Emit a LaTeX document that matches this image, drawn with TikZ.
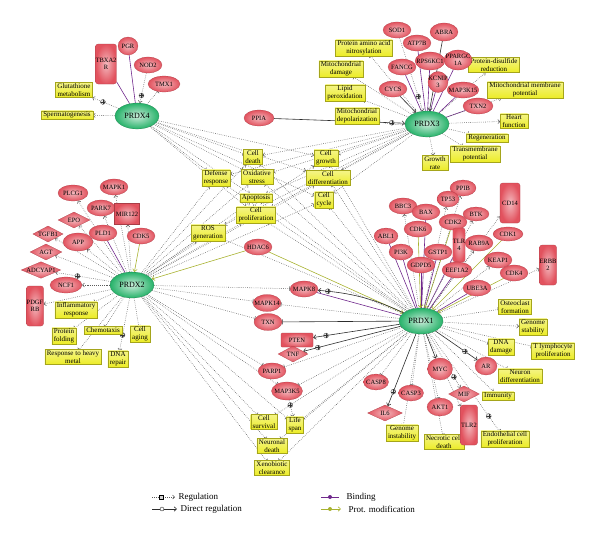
\documentclass[tikz,border=0pt]{standalone}
\usepackage{fontspec}
\setmainfont{Liberation Serif}
\usetikzlibrary{arrows.meta,shapes.geometric}
\definecolor{protred}{RGB}{226,82,94}
\definecolor{hubgreen}{RGB}{38,178,105}
\definecolor{procyellow}{RGB}{236,236,38}
\definecolor{linegray}{RGB}{92,92,92}
\definecolor{dregdark}{RGB}{45,45,45}
\definecolor{bindpurple}{RGB}{112,40,140}
\definecolor{pmodolive}{RGB}{168,178,48}
\pgfdeclarelayer{edges}
\pgfsetlayers{edges,main}
\tikzset{
  hub/.style={ellipse, draw=hubgreen!70!black, line width=0.2pt, inner color=hubgreen!25!white, outer color=hubgreen, minimum width=44pt, minimum height=26pt, inner xsep=-2pt, font=\fontsize{8}{9}\selectfont},
  prot/.style={ellipse, draw=protred!75!black, line width=0.2pt, inner color=protred!40!white, outer color=protred, minimum width=28pt, minimum height=16pt, inner xsep=-3pt, inner ysep=0pt, align=center, font=\fontsize{6.5}{6.5}\selectfont},
  lig/.style={prot, diamond, aspect=2.4, inner sep=0pt},
  recep/.style={prot, rectangle, rounded corners=2.5pt, minimum width=19pt, minimum height=40pt, inner sep=0pt},
  mirna/.style={prot, rectangle, minimum width=25pt, minimum height=21pt, inner sep=0pt},
  phos/.style={prot, rectangle, rounded corners=1pt, minimum width=32pt, minimum height=14pt, inner sep=0pt},
  proc/.style={rectangle, draw=procyellow!70!black, line width=0.2pt, top color=procyellow!55!white, bottom color=procyellow, inner xsep=2pt, inner ysep=1.2pt, align=center, font=\fontsize{7}{7.6}\selectfont},
  reg/.style={draw=linegray, line width=0.55pt, dash pattern=on 0.6pt off 1.3pt, -{Straight Barb[length=2pt,width=4pt]}},
  regbar/.style={reg, -{Bar[width=4.5pt]}},
  dreg/.style={draw=dregdark, line width=0.6pt, -{Straight Barb[length=2.5pt,width=4.5pt]}},
  dregbar/.style={dreg, -{Bar[width=5pt]}},
  bind/.style={draw=bindpurple, line width=0.6pt},
  pmod/.style={draw=pmodolive, line width=0.6pt, -{Straight Barb[length=2.5pt,width=4.5pt]}},
  pmark/.style={circle, draw=black!80, fill=gray!20, line width=0.25pt, inner sep=0pt, minimum size=5pt, solid,
    path picture={\draw[line width=0.3pt] (path picture bounding box.north) -- (path picture bounding box.south) (path picture bounding box.west) -- (path picture bounding box.east);}},
  sqmark/.style={rectangle, draw=black, fill=gray!35, line width=0.3pt, inner sep=0pt, minimum size=3.5pt, solid},
  cmark/.style={circle, draw=black, fill=white, line width=0.3pt, inner sep=0pt, minimum size=4pt},
  dmark/.style={circle, inner sep=0pt, minimum size=4pt},
  legtext/.style={anchor=west, font=\fontsize{9}{10}\selectfont}
}

\begin{document}
\begin{tikzpicture}[x=1pt,y=-1pt]
  \useasboundingbox (0,0) rectangle (600,536);

  % hubs
  \node[hub] (prdx4) at (137,116) {PRDX4};
  \node[hub] (prdx3) at (427,124) {PRDX3};
  \node[hub] (prdx2) at (132,285) {PRDX2};
  \node[hub] (prdx1) at (421,321) {PRDX1};

  % cell processes
  \node[proc] (glut) at (74,90) {Glutathione\\metabolism};
  \node[proc] (sperm) at (67,115) {Spermatogenesis};
  \node[proc] (defense) at (216,178) {Defense\\response};
  \node[proc] (nitro) at (364,48) {Protein amino acid\\nitrosylation};
  \node[proc] (mitodam) at (341,69) {Mitochondrial\\damage};
  \node[proc] (lipid) at (345,93) {Lipid\\peroxidation};
  \node[proc] (mitodep) at (357,116) {Mitochondrial\\depolarization};
  \node[proc] (disulf) at (494,65) {Protein-disulfide\\reduction};
  \node[proc] (mitomem) at (525,90) {Mitochondrial membrane\\potential};
  \node[proc] (heart) at (514,121) {Heart\\function};
  \node[proc] (regen) at (487,138) {Regeneration};
  \node[proc] (transm) at (475,154) {Transmembrane\\potential};
  \node[proc] (growthrate) at (435,163) {Growth\\rate};
  \node[proc] (death) at (253,157) {Cell\\death};
  \node[proc] (oxstress) at (257,177) {Oxidative\\stress};
  \node[proc] (apopt) at (256,198) {Apoptosis};
  \node[proc] (prolif) at (256,215) {Cell\\proliferation};
  \node[proc] (growth) at (326,158) {Cell\\growth};
  \node[proc] (diff) at (328,178) {Cell\\differentiation};
  \node[proc] (cycle) at (324,200) {Cell\\cycle};
  \node[proc] (ros) at (208,233) {ROS\\generation};
  \node[proc] (inflam) at (76,310) {Inflammatory\\response};
  \node[proc] (folding) at (64,336) {Protein\\folding};
  \node[proc] (chemo) at (103,330) {Chemotaxis};
  \node[proc] (aging) at (140,334) {Cell\\aging};
  \node[proc] (heavy) at (73,357) {Response to heavy\\metal};
  \node[proc] (dnarep) at (118,359) {DNA\\repair};
  \node[proc] (osteo) at (515,307) {Osteoclast\\formation};
  \node[proc] (genstab) at (533,327) {Genome\\stability};
  \node[proc] (dnadam) at (501,347) {DNA\\damage};
  \node[proc] (tlymph) at (553,351) {T lymphocyte\\proliferation};
  \node[proc] (neurodiff) at (520,376) {Neuron\\differentiation};
  \node[proc] (immun) at (498,396) {Immunity};
  \node[proc] (endo) at (505,439) {Endothelial cell\\proliferation};
  \node[proc] (necro) at (444,442) {Necrotic cell\\death};
  \node[proc] (geninst) at (402,433) {Genome\\instability};
  \node[proc] (survival) at (264,422) {Cell\\survival};
  \node[proc] (lifespan) at (295,425) {Life\\span};
  \node[proc] (neurodeath) at (272,446) {Neuronal\\death};
  \node[proc] (xeno) at (272,468) {Xenobiotic\\clearance};

  % proteins round PRDX4 and PRDX3
  \node[recep] (tbxa2r) at (106,64) {TBXA2\\R};
  \node[prot, minimum width=20pt, minimum height=18pt] (pgr) at (128,46) {PGR};
  \node[prot] (nod2) at (148,65) {NOD2};
  \node[prot, minimum width=32pt] (tmx1) at (164,84) {TMX1};
  \node[prot, minimum width=30pt] (ppia) at (259,118) {PPIA};
  \node[prot] (sod1) at (397,30) {SOD1};
  \node[prot, minimum height=18pt] (abra) at (444,32) {ABRA};
  \node[prot] (atp7b) at (417,43) {ATP7B};
  \node[prot] (fancg) at (402,67) {FANCG};
  \node[prot] (cycs) at (393,89) {CYCS};
  \node[prot, minimum height=18pt] (rps6kc1) at (430,61) {RPS6KC1};
  \node[prot, minimum height=20pt] (ppargc1a) at (458,60) {PPARGC\\1A};
  \node[prot, minimum width=20pt, minimum height=21pt] (kcnip3) at (438,82) {KCNIP\\3};
  \node[prot, minimum width=30pt] (map3k15) at (463,90) {MAP3K15};
  \node[prot, minimum width=30pt] (txn2) at (478,106) {TXN2};

  % proteins round PRDX2
  \node[prot, minimum width=30pt] (plcg1) at (73,193) {PLCG1};
  \node[prot] (mapk1) at (114,187) {MAPK1};
  \node[prot] (park7) at (101,208) {PARK7};
  \node[mirna] (mir122) at (127,214) {MIR122};
  \node[lig, minimum width=32pt] (epo) at (74,220) {EPO};
  \node[prot] (pld1) at (103,233) {PLD1};
  \node[prot] (cdk5) at (141,236) {CDK5};
  \node[lig, minimum width=30pt] (tgfb1) at (48,234) {TGFB1};
  \node[prot, minimum width=30pt, minimum height=18pt] (app) at (78,242) {APP};
  \node[lig, minimum width=32pt] (agt) at (46,252) {AGT};
  \node[lig] (adcyap1) at (41,270) {ADCYAP1};
  \node[prot, minimum width=32pt] (ncf1) at (66,285) {NCF1};
  \node[recep, minimum width=17pt] (pdgfrb) at (35,306) {PDGF\\RB};
  \node[prot] (hdac6) at (258,247) {HDAC6};

  % proteins round PRDX1
  \node[prot] (bbc3) at (403,206) {BBC3};
  \node[prot] (bax) at (426,212) {BAX};
  \node[prot, minimum width=26pt] (ppib) at (463,188) {PPIB};
  \node[prot, minimum width=22pt] (tp53) at (448,199) {TP53};
  \node[prot, minimum width=26pt, minimum height=14pt] (btk) at (476,214) {BTK};
  \node[prot] (cdk2) at (453,222) {CDK2};
  \node[prot] (cdk6) at (418,229) {CDK6};
  \node[prot, minimum width=24pt] (abl1) at (386,236) {ABL1};
  \node[prot, minimum width=24pt] (pi3k) at (401,252) {PI3K};
  \node[recep, minimum width=11pt, minimum height=34pt] (tlr4) at (459,245) {TLR\\4};
  \node[prot] (rab9a) at (479,243) {RAB9A};
  \node[prot] (gstp1) at (438,252) {GSTP1};
  \node[prot] (gdpd5) at (421,265) {GDPD5};
  \node[prot, minimum width=30pt] (eef1a2) at (457,270) {EEF1A2};
  \node[recep, minimum width=20pt] (cd14) at (510,203) {CD14};
  \node[prot, minimum width=30pt, minimum height=14pt] (cdk1) at (508,234) {CDK1};
  \node[prot] (keap1) at (498,260) {KEAP1};
  \node[prot] (cdk4) at (514,273) {CDK4};
  \node[recep, minimum width=17pt] (erbb2) at (548,265) {ERBB\\2};
  \node[prot] (ube3a) at (477,288) {UBE3A};
  \node[prot] (mapk8) at (304,289) {MAPK8};
  \node[prot, minimum height=17pt] (mapk14) at (267,303) {MAPK14};
  \node[prot, minimum height=17pt] (txn) at (268,322) {TXN};
  \node[phos] (pten) at (297,340) {PTEN};
  \node[lig, minimum width=30pt] (tnf) at (293,354) {TNF};
  \node[prot] (parp1) at (272,371) {PARP1};
  \node[prot, minimum width=31pt, minimum height=18pt] (map3k5) at (287,391) {MAP3K5};
  \node[prot, minimum width=25pt] (casp8) at (376,382) {CASP8};
  \node[lig, minimum width=35pt] (il6) at (385,413) {IL6};
  \node[prot, minimum width=25pt] (casp3) at (411,393) {CASP3};
  \node[prot, minimum width=25pt, minimum height=22pt] (myc) at (440,369) {MYC};
  \node[prot, minimum width=26pt, minimum height=18pt] (akt1) at (440,407) {AKT1};
  \node[lig, minimum width=31pt] (mif) at (464,394) {MIF};
  \node[recep, minimum width=17pt] (tlr2) at (469,425) {TLR2};
  \node[prot, minimum width=22pt, minimum height=18pt] (ar) at (486,366) {AR};

  \begin{pgfonlayer}{edges}
    % PRDX4
    \draw[bind] (prdx4) -- (tbxa2r);
    \draw[bind] (prdx4) -- (pgr);
    \draw[reg] (nod2) -- (prdx4) node[pmark, pos=.75] {};
    \draw[regbar] (prdx4) -- (tmx1);
    \draw[reg] (prdx4) -- (glut) node[pmark, pos=.6] {};
    \draw[reg] (prdx4) -- (sperm);
    \foreach \tgt in {defense,death,oxstress} \draw[regbar] (prdx4) -- (\tgt);
    \foreach \tgt in {apopt,prolif,growth,diff,cycle} \draw[reg] (prdx4) -- (\tgt);

    % PRDX3
    \foreach \tgt in {fancg,atp7b,rps6kc1,kcnip3,ppargc1a,map3k15,txn2} \draw[bind] (prdx3) -- (\tgt);
    \draw[dreg] (abra) -- (prdx3);
    \draw[reg] (sod1) -- (prdx3) node[pmark, pos=.8] {};
    \draw[dreg] (cycs) -- (prdx3);
    \draw[dreg] (ppia) -- (prdx3) node[pmark, pos=.9] {};
    \foreach \tgt in {lipid,mitodam,nitro,regen,transm} \draw[regbar] (prdx3) -- (\tgt);
    \draw[regbar] (prdx3) to[bend left=8] (mitodep);
    \foreach \tgt in {disulf,mitomem,heart,growthrate} \draw[reg] (prdx3) -- (\tgt);
    \foreach \tgt in {growth,diff,cycle,death,oxstress,apopt,prolif,ros,defense} \draw[reg] (prdx3) -- (\tgt);

    % PRDX2
    \draw[bind] (prdx2) -- (pld1);
    \draw[pmod] (cdk5) -- (prdx2);
    \draw[pmod] (hdac6) -- (prdx2);
    \draw[reg] (prdx2) -- (mapk1) node[pmark, pos=.8] {};
    \foreach \tgt in {plcg1,park7,mir122,epo,app,tgfb1,agt,ncf1,pdgfrb} \draw[reg] (prdx2) -- (\tgt);
    \draw[reg] (prdx2) -- (adcyap1) node[pmark, pos=.6] {};
    \foreach \tgt in {inflam,folding,chemo,aging,heavy} \draw[regbar] (prdx2) -- (\tgt);
    \draw[reg] (prdx2) -- (dnarep) node[pmark, pos=.7] {};
    \foreach \tgt in {defense,death,oxstress,prolif,ros,growth,diff,cycle} \draw[reg] (prdx2) -- (\tgt);
    \draw[reg] (prdx2) -- (apopt) node[pmark, pos=.9] {};
    \foreach \tgt in {mapk8,mapk14,txn,parp1,map3k5,survival,lifespan,neurodeath,xeno} \draw[regbar] (prdx2) -- (\tgt);

    % PRDX1
    \foreach \tgt in {bax,gdpd5,gstp1,eef1a2,ube3a,abl1,pi3k,tlr4,mapk8} \draw[bind] (prdx1) -- (\tgt);
    \foreach \tgt in {cdk6,cdk2,cdk1,cdk4,hdac6} \draw[pmod] (\tgt) -- (prdx1);
    \foreach \tgt in {bbc3,ppib,tp53,btk,rab9a,keap1,cd14,erbb2} \draw[reg] (prdx1) -- (\tgt);
    \draw[dreg] (prdx1) to[bend right=10] node[pmark, pos=.9] {} (mapk8);
    \draw[dregbar] (prdx1) -- (txn);
    \draw[dreg] (prdx1) -- (pten) node[pmark, pos=.85] {};
    \draw[dreg] (prdx1) -- (tnf) node[pmark, pos=.85] {};
    \draw[dreg] (prdx1) -- (il6) node[pmark, pos=.8] {};
    \draw[dreg] (prdx1) -- (myc);
    \draw[dreg] (prdx1) -- (ar) node[pmark, pos=.7] {};
    \foreach \tgt in {osteo,dnadam,tlymph,neurodiff,necro,geninst,casp3,casp8,akt1} \draw[regbar] (prdx1) -- (\tgt);
    \foreach \tgt in {genstab,immun,tlr2} \draw[reg] (prdx1) -- (\tgt);
    \draw[regbar] (prdx1) -- (endo) node[pmark, pos=.85] {};
    \draw[reg] (prdx1) -- (mif) node[pmark, pos=.8] {};
    \foreach \tgt in {growth,diff,cycle,death,oxstress,apopt,prolif,ros,defense} \draw[regbar] (prdx1) -- (\tgt);
    \foreach \tgt in {survival,lifespan,neurodeath,xeno,parp1,map3k5,mapk14} \draw[regbar] (prdx1) -- (\tgt);
    \draw[reg] (map3k5) -- (lifespan) node[pmark, pos=.3] {};
  \end{pgfonlayer}

  % legend
  \node[legtext] (legreg) at (175,497) {Regulation};
  \node[legtext] (legdir) at (177,509) {Direct regulation};
  \node[legtext] (legbind) at (343,497) {Binding};
  \node[legtext] (legpmod) at (345,509) {Prot. modification};
  \coordinate (lr) at (152,497);
  \coordinate (ld) at (152,509);
  \coordinate (lb) at (321,497);
  \coordinate (lp) at (321,509);
  \draw[reg] (lr) -- (legreg.west) node[sqmark, pos=.4] {};
  \draw[dreg] (ld) -- (legdir.west) node[cmark, pos=.4] {};
  \draw[bind] (lb) -- ([xshift=-4pt]legbind.west) node[dmark, fill=bindpurple, pos=.5] {};
  \draw[pmod] (lp) -- ([xshift=-4pt]legpmod.west) node[dmark, fill=pmodolive, pos=.45] {};
\end{tikzpicture}
\end{document}
